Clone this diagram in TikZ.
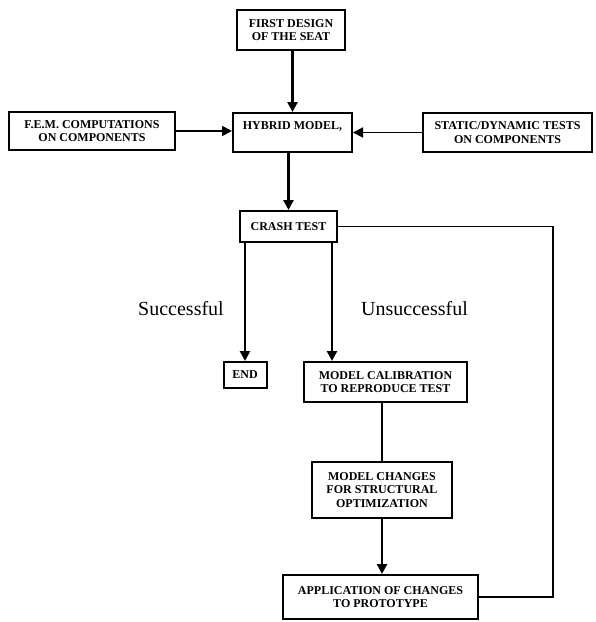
\documentclass[tikz,border=0pt]{standalone}
\usepackage{fontspec}
\setmainfont{Liberation Serif}
\usetikzlibrary{arrows.meta}

\begin{document}
\begin{tikzpicture}[x=1pt, y=-1pt,
    stage/.style={rectangle, draw=black, line width=2pt, align=center, inner sep=2pt,
      font=\bfseries\fontsize{12}{13.5}\selectfont},
    flow/.style={-{Triangle[length=10pt, width=10pt]}, line width=2.8pt},
    feed/.style={-{Triangle[length=10pt, width=10pt]}, line width=1.8pt},
    link/.style={line width=1.8pt},
    outcome/.style={font=\fontsize{20}{24}\selectfont}]
  \useasboundingbox (0,0) rectangle (596,622);
  \node (first) [stage, minimum width=108, minimum height=40] at (291, 30) {FIRST DESIGN\\OF THE SEAT};
  \node (hybrid) [stage, minimum width=119, minimum height=39] at (292.5, 132.5) {HYBRID MODEL,\\\mbox{}};
  \node (fem) [stage, minimum width=166, minimum height=38] at (92, 131) {F.E.M. COMPUTATIONS\\ON COMPONENTS};
  \node (static) [stage, minimum width=169, minimum height=39] at (507.5, 132.5) {STATIC/DYNAMIC TESTS\\ON COMPONENTS};
  \node (crash) [stage, minimum width=97, minimum height=31] at (288.5, 226.5) {CRASH TEST};
  \node (end) [stage, minimum width=43, minimum height=26] at (245, 375) {END};
  \node (calib) [stage, minimum width=163, minimum height=40] at (385.5, 382) {MODEL CALIBRATION\\TO REPRODUCE TEST};
  \node (changes) [stage, minimum width=140, minimum height=56] at (382, 490) {MODEL CHANGES\\FOR STRUCTURAL\\OPTIMIZATION};
  \node (app) [stage, minimum width=195, minimum height=44] at (380.5, 597) {APPLICATION OF CHANGES\\TO PROTOTYPE};
  \node (ok) [outcome] at (181, 309) {Successful};
  \node (notok) [outcome] at (414.5, 309) {Unsuccessful};
  \coordinate (loop) at (553, 400);
  \draw [flow] (first.south -| hybrid.north) -- (hybrid.north);
  \draw [feed] (fem.east) -- (fem.east -| hybrid.west);
  \draw [feed] (static.west) -- (static.west -| hybrid.east);
  \draw [flow] (crash.north |- hybrid.south) -- (crash.north);
  \draw [flow] (end.north |- crash.south) -- (end.north);
  \draw [flow] ([xshift=-6pt]crash.south east) -- ([xshift=-6pt]crash.south east |- calib.north);
  \draw [link] (changes.north |- calib.south) -- (changes.north);
  \draw [flow] (changes.south) -- (changes.south |- app.north);
  \draw [link] (crash.east) -| (loop) |- (app.east);
\end{tikzpicture}
\end{document}
